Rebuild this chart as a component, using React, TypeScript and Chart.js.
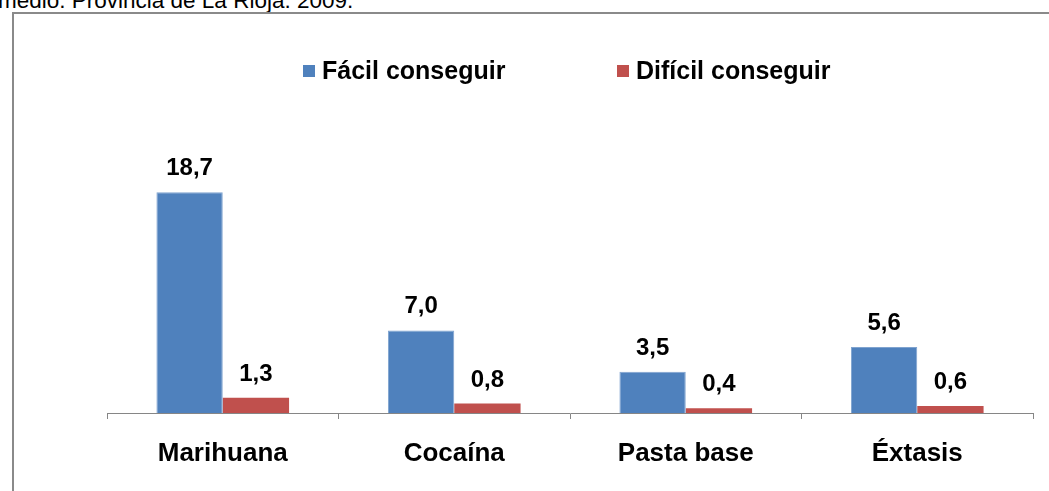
import React, { useEffect, useRef } from "react";
import { Chart, registerables } from "chart.js";

Chart.register(...registerables);

const categories = ["Marihuana", "Cocaína", "Pasta base", "Éxtasis"];
const seriesNames = ["Fácil conseguir", "Difícil conseguir"];
const facilValues = [18.7, 7.0, 3.5, 5.6];
const dificilValues = [1.3, 0.8, 0.4, 0.6];
const seriesColors = ["#4F81BD", "#C0504D"];

const FONT = "'Liberation Sans', Arial, sans-serif";
const CANVAS_LEFT = 97;

const fmt = (v: number) => v.toFixed(1).replace(".", ",");

const labelsPlugin = {
  id: "valueLabels",
  afterDatasetsDraw(chart: any) {
    const ctx = chart.ctx;
    ctx.save();
    ctx.font = `bold 24px ${FONT}`;
    ctx.fillStyle = "#000";
    ctx.textAlign = "center";
    ctx.textBaseline = "alphabetic";
    chart.data.datasets.forEach((ds: any, i: number) => {
      const meta = chart.getDatasetMeta(i);
      meta.data.forEach((bar: any, j: number) => {
        ctx.fillText(fmt(ds.data[j]), bar.x, bar.y - 17);
      });
    });
    ctx.restore();
  },
};

const legendPlugin = {
  id: "customLegend",
  afterDraw(chart: any) {
    const ctx = chart.ctx;
    ctx.save();
    ctx.font = `bold 25px ${FONT}`;
    ctx.textBaseline = "alphabetic";
    ctx.textAlign = "left";
    const items = [
      { x: 303, text: seriesNames[0], color: seriesColors[0] },
      { x: 617, text: seriesNames[1], color: seriesColors[1] },
    ];
    items.forEach((it) => {
      const x = it.x - CANVAS_LEFT;
      ctx.fillStyle = it.color;
      ctx.fillRect(x, 65, 12, 12);
      ctx.fillStyle = "#000";
      ctx.fillText(it.text, x + 19, 79);
    });
    ctx.restore();
  },
};

export default function App() {
  const canvasRef = useRef<HTMLCanvasElement | null>(null);

  useEffect(() => {
    if (!canvasRef.current) return;
    const chart = new Chart(canvasRef.current, {
      type: "bar",
      data: {
        labels: categories,
        datasets: [
          {
            label: seriesNames[0],
            data: facilValues,
            backgroundColor: seriesColors[0],
            borderColor: "#7FA3CF",
            borderWidth: 1,
            categoryPercentage: 0.573,
            barPercentage: 1.0,
          },
          {
            label: seriesNames[1],
            data: dificilValues,
            backgroundColor: seriesColors[1],
            categoryPercentage: 0.573,
            barPercentage: 1.0,
          },
        ],
      },
      options: {
        animation: false,
        responsive: false,
        maintainAspectRatio: false,
        layout: { padding: { left: 10, right: 10, top: 177, bottom: 0 } },
        plugins: {
          legend: { display: false },
          tooltip: { enabled: false },
          title: { display: false },
        },
        scales: {
          x: {
            grid: {
              display: true,
              drawOnChartArea: false,
              drawTicks: true,
              tickLength: 6,
              color: "#868686",
              offset: true,
            },
            border: { display: true, color: "#868686", width: 1 },
            ticks: {
              color: "#000",
              padding: 19,
              font: { family: FONT, size: 26, weight: "bold" },
              maxRotation: 0,
            },
            afterFit(scale: any) {
              scale.height = 78;
            },
          },
          y: {
            display: false,
            min: 0,
            max: 20,
          },
        },
      },
      plugins: [labelsPlugin, legendPlugin],
    });
    return () => chart.destroy();
  }, []);

  return (
    <div
      style={{
        position: "fixed",
        left: 0,
        top: 0,
        width: 1049,
        height: 491,
        overflow: "hidden",
        background: "#fff",
      }}
    >
      <div
        style={{
          position: "absolute",
          left: -2,
          top: -10,
          fontFamily: FONT,
          fontSize: 22.5,
          lineHeight: "22px",
          whiteSpace: "nowrap",
          color: "#000",
        }}
      >
        medio. Provincia de La Rioja. 2009.
      </div>
      <div
        style={{
          position: "absolute",
          left: 12,
          top: 12,
          width: 1200,
          height: 700,
          borderLeft: "2px solid #8a8a8a",
          borderTop: "2px solid #8a8a8a",
        }}
      />
      <canvas
        ref={canvasRef}
        width={946}
        height={491}
        style={{ position: "absolute", left: CANVAS_LEFT, top: 0, width: 946, height: 491 }}
      />
    </div>
  );
}
